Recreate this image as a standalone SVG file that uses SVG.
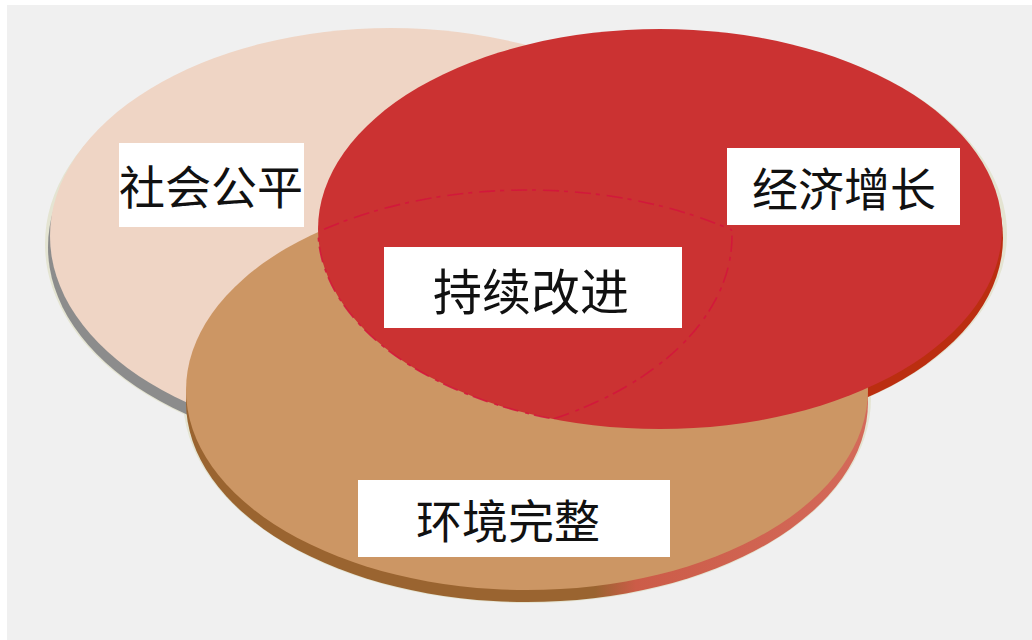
<svg xmlns="http://www.w3.org/2000/svg" width="1032" height="640" viewBox="0 0 1032 640">
  <style>
    .label-box { fill: #ffffff; }
    .label { font-family: "Noto Sans CJK SC", "Noto Sans", sans-serif; fill: #111111; text-anchor: middle; dominant-baseline: central; }
    .halo { fill: none; stroke: #e4e4d2; stroke-width: 4; }
    .trace { fill: none; stroke: #d4143c; stroke-width: 1.6; stroke-dasharray: 16 5 4 7; opacity: 0.85; }
  </style>
  <defs>
    <linearGradient id="tanShadow" x1="186" y1="0" x2="868" y2="0" gradientUnits="userSpaceOnUse">
      <stop offset="0" stop-color="#9a6430"/>
      <stop offset="0.6" stop-color="#9a6430"/>
      <stop offset="0.66" stop-color="#cc5c48"/>
      <stop offset="1" stop-color="#d46a5a"/>
    </linearGradient>
    <clipPath id="clipPink"><ellipse cx="391" cy="236" rx="341" ry="208"/></clipPath>
    <clipPath id="clipRed"><ellipse cx="660" cy="229" rx="342" ry="200"/></clipPath>
    <clipPath id="clipTan"><ellipse cx="527" cy="390" rx="341" ry="200"/></clipPath>
  </defs>

  <rect x="0" y="0" width="1032" height="640" fill="#ffffff"/>
  <rect x="7" y="5" width="1025" height="635" fill="#f0f0f0"/>

  <g id="halos">
    <ellipse class="halo" cx="389" cy="244" rx="342" ry="210"/>
    <ellipse class="halo" cx="662" cy="234" rx="343" ry="202"/>
    <ellipse class="halo" cx="527" cy="398" rx="342" ry="203"/>
  </g>

  <g id="node-social">
    <ellipse cx="389" cy="247" rx="341" ry="208" fill="#8c8c8c"/>
    <ellipse cx="391" cy="236" rx="341" ry="208" fill="#efd5c5"/>
  </g>

  <g id="node-economy-shadow">
    <ellipse cx="661" cy="238" rx="342" ry="200" fill="#bb2e10"/>
  </g>

  <g id="node-environment">
    <ellipse cx="527" cy="402" rx="341" ry="200" fill="url(#tanShadow)"/>
    <ellipse cx="527" cy="390" rx="341" ry="200" fill="#cc9664"/>
  </g>

  <g id="node-economy">
    <ellipse cx="660" cy="229" rx="342" ry="200" fill="#cb3232"/>
  </g>

  <g id="node-core-outline">
    <g clip-path="url(#clipPink)"><g clip-path="url(#clipRed)">
      <ellipse class="trace" cx="527" cy="390" rx="341" ry="200"/>
    </g></g>
    <g clip-path="url(#clipPink)"><g clip-path="url(#clipTan)">
      <ellipse class="trace" cx="660" cy="229" rx="342" ry="200"/>
    </g></g>
    <g clip-path="url(#clipRed)"><g clip-path="url(#clipTan)">
      <ellipse class="trace" cx="391" cy="236" rx="341" ry="208"/>
    </g></g>
  </g>

  <g id="label-social">
    <rect class="label-box" x="119" y="143" width="185" height="84"/>
    <text class="label" x="211" y="184" font-size="46">社会公平</text>
  </g>
  <g id="label-economy">
    <rect class="label-box" x="727" y="148" width="233" height="77"/>
    <text class="label" x="844" y="186" font-size="46">经济增长</text>
  </g>
  <g id="label-core">
    <rect class="label-box" x="384" y="247" width="298" height="81"/>
    <text class="label" x="531" y="288" font-size="49">持续改进</text>
  </g>
  <g id="label-environment">
    <rect class="label-box" x="358" y="480" width="312" height="77"/>
    <text class="label" x="508" y="518" font-size="46">环境完整</text>
  </g>
</svg>
